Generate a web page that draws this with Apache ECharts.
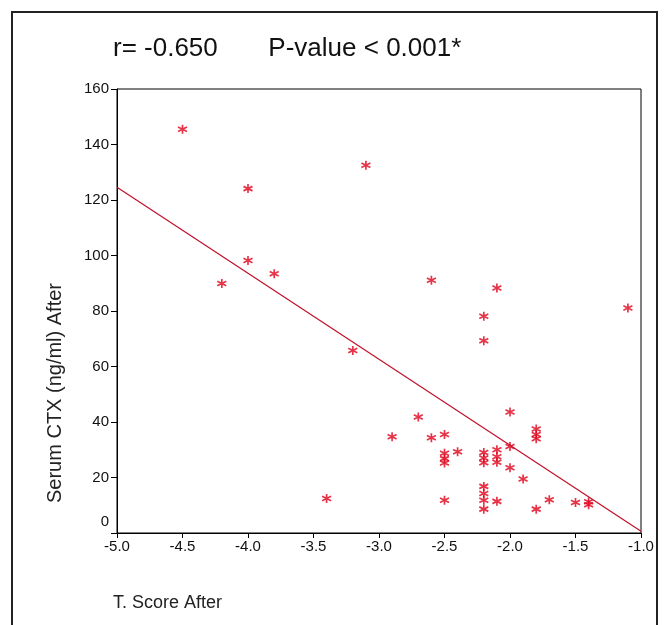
<!DOCTYPE html>
<html>
<head>
<meta charset="utf-8">
<script src="https://cdn.jsdelivr.net/npm/echarts@6/dist/echarts.min.js"></script>
<style>
  html, body { margin: 0; padding: 0; background: #fff; }
  #main { width: 669px; height: 625px; }
</style>
</head>
<body>
<div id="main"></div>
<script>
  // T score (x) and serum CTX (y)
  var tScore = [-4.5, -4.0, -4.0, -3.8, -4.2, -3.2, -3.4, -3.1, -1.1, -2.6, -2.1, -2.2, -2.2,
    -2.7, -2.0, -2.9, -2.6, -2.5, -1.8, -1.8, -1.8, -2.0, -2.1, -2.1, -2.1, -2.2, -2.2, -2.2,
    -2.4, -2.5, -2.5, -2.5, -2.0, -1.9, -2.2, -2.2, -2.2, -2.2, -2.5, -2.1, -1.8, -1.7, -1.5,
    -1.4, -1.4];
  var serumCtx = [145.5, 124.1, 98.2, 93.4, 89.9, 65.8, 12.4, 132.5, 81.1, 91.1, 88.3, 78.1, 69.3,
    41.8, 43.6, 34.7, 34.3, 35.5, 37.5, 35.5, 34.0, 31.2, 30.0, 27.5, 25.5, 29.0, 27.0, 25.3,
    29.3, 28.7, 26.8, 25.2, 23.5, 19.5, 16.8, 14.2, 11.8, 8.6, 11.8, 11.4, 8.6, 12.0, 11.0,
    11.3, 10.2];
  // fitted line end points
  var fitX = [-5.0, -1.0];
  var fitY = [124.6, 0.6];

  var points = tScore.map(function (x, i) { return [x, serumCtx[i]]; });
  var fit = fitX.map(function (x, i) { return [x, fitY[i]]; });

  var font = 'Liberation Sans, Arial, sans-serif';
  var chart = echarts.init(document.getElementById('main'));
  chart.setOption({
    animation: false,
    backgroundColor: '#fff',
    title: {
      text: 'r= -0.650       P-value < 0.001*',
      left: 108,
      top: 31,
      textStyle: { fontFamily: font, fontSize: 26, fontWeight: 'normal', color: '#111' }
    },
    grid: {
      left: 117, right: 28, top: 89, bottom: 92,
      show: true, borderColor: '#000', borderWidth: 1
    },
    xAxis: {
      type: 'value',
      min: -5, max: -1, interval: 0.5,
      axisLine: { lineStyle: { color: '#000', width: 1 } },
      axisTick: { show: true, length: 5, lineStyle: { color: '#000' } },
      splitLine: { show: false },
      axisLabel: {
        margin: 6, fontFamily: font, fontSize: 15, color: '#111',
        formatter: function (v) { return v.toFixed(1); }
      }
    },
    yAxis: {
      type: 'value',
      min: 0, max: 160, interval: 20,
      axisLine: { show: true, lineStyle: { color: '#000', width: 1 } },
      axisTick: { show: true, length: 6, lineStyle: { color: '#000' } },
      splitLine: { show: false },
      axisLabel: {
        margin: 8, fontFamily: font, fontSize: 15, color: '#111',
        formatter: function (v) { return v === 0 ? '{z|0}' : v; },
        rich: { z: { fontFamily: font, fontSize: 15, color: '#111', padding: [0, 0, 22, 0] } }
      }
    },
    series: [{
      type: 'scatter',
      data: points,
      symbol: 'path://M5,0L5,10M0.7,2.5L9.3,7.5M0.7,7.5L9.3,2.5',
      symbolSize: 9,
      itemStyle: { color: '#e0001a', borderColor: '#e0001a', borderWidth: 1.7 }
    }, {
      type: 'line',
      data: fit,
      showSymbol: false,
      symbol: 'none',
      lineStyle: { color: '#c0102a', width: 1.2 }
    }],
    graphic: [{
      type: 'rect',
      shape: { x: 12, y: 12, width: 645, height: 640 },
      style: { fill: 'transparent', stroke: '#222', lineWidth: 2 }
    }, {
      type: 'text',
      x: 55, y: 393,
      rotation: Math.PI / 2,
      style: {
        text: 'Serum CTX (ng/ml) After', fontFamily: font, fontSize: 20,
        fill: '#222', align: 'center', verticalAlign: 'middle'
      }
    }, {
      type: 'text',
      x: 113, y: 603,
      style: {
        text: 'T. Score After', fontFamily: font, fontSize: 18,
        fill: '#222', align: 'left', verticalAlign: 'middle'
      }
    }]
  });
</script>
</body>
</html>
